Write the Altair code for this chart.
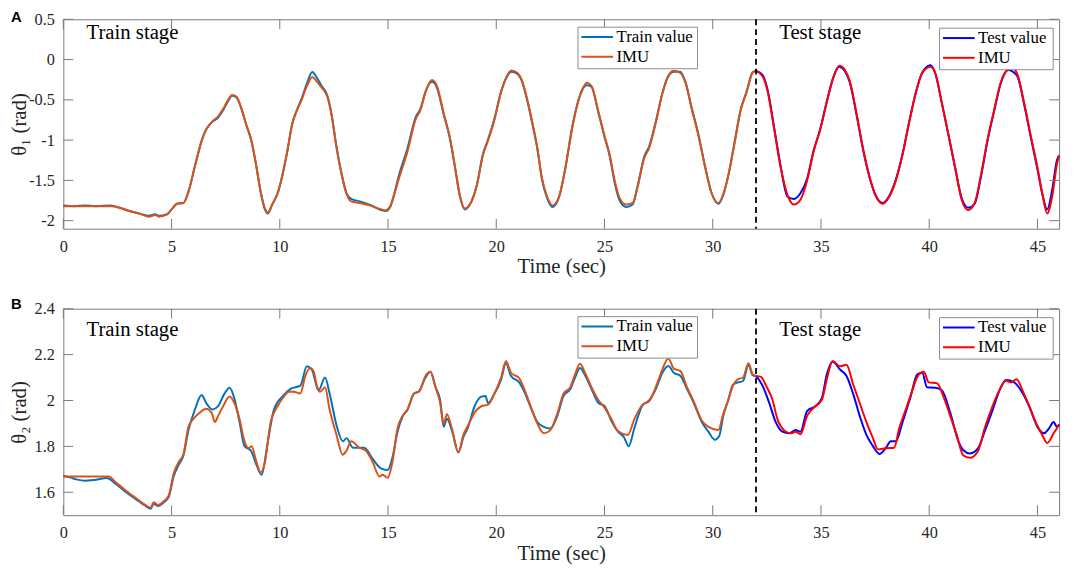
import altair as alt
import pandas as pd

SERIF = "Liberation Serif"
SANS = "Liberation Sans"
INK = "#262626"
BOX = "#7a7a7a"
LEG_BOX = "#8c8c8c"

C_TRAIN = "#0072BD"
C_TRAIN_IMU = "#D95319"
C_TEST = "#0000FF"
C_TEST_IMU = "#FF0000"

x_ticks = [0, 5, 10, 15, 20, 25, 30, 35, 40, 45]
a_y_ticks = [-2, -1.5, -1, -0.5, 0, 0.5]
b_y_ticks = [1.6, 1.8, 2, 2.2, 2.4]
split_time = [32]
stage_labels = ["Train stage", "Test stage"]
stage_t = [1.07, 33.07]
legend_train = ["Train value", "IMU"]
legend_test = ["Test value", "IMU"]

# ---------------- Panel A: theta_1 ----------------
a_train_t = [0, 0.5, 1.0, 1.5, 2.2, 2.6, 3.05, 3.5, 3.96, 4.26,
             4.4, 4.8, 5.0, 5.25, 5.55, 5.78, 6.1, 6.4, 6.6, 6.9,
             7.15, 7.4, 7.6, 7.8, 8.0, 8.2, 8.45, 8.7, 8.9, 9.1,
             9.3, 9.45, 9.65, 9.9, 10.1, 10.35, 10.57, 10.8, 11.0, 11.25,
             11.5, 11.7, 11.94, 12.2, 12.4, 12.6, 12.85, 13.1, 13.3, 13.7,
             14.15, 14.7, 14.9, 15.1, 15.35, 15.5, 15.9, 16.27, 16.5, 16.73,
             17.03, 17.26, 17.57, 17.87, 18.1, 18.33, 18.55, 18.78, 19.09, 19.39,
             19.6, 19.92, 20.2, 20.45, 20.7, 20.98, 21.2, 21.44, 21.67, 21.9,
             22.1, 22.35, 22.6, 22.9, 23.2, 23.5, 23.72, 23.95, 24.18, 24.4,
             24.7, 25.0, 25.24, 25.47, 25.7, 26.0, 26.3, 26.53, 26.84, 27.06,
             27.37, 27.67, 27.98, 28.2, 28.5, 28.74, 29.04, 29.34, 29.65, 29.95,
             30.26, 30.5, 30.75, 31.0, 31.3, 31.55, 31.85, 32.0]
a_train_imu = [-1.82, -1.82, -1.82, -1.82, -1.82, -1.84, -1.88, -1.91, -1.95, -1.93,
               -1.95, -1.92, -1.86, -1.79, -1.78, -1.64, -1.30, -1.00, -0.865, -0.765,
               -0.705, -0.605, -0.505, -0.44, -0.46, -0.585, -0.805, -1.02, -1.30, -1.62,
               -1.84, -1.90, -1.80, -1.66, -1.46, -1.14, -0.805, -0.625, -0.505, -0.33,
               -0.215, -0.27, -0.35, -0.465, -0.705, -1.06, -1.42, -1.68, -1.76, -1.78,
               -1.81, -1.86, -1.87, -1.82, -1.62, -1.48, -1.14, -0.745, -0.625, -0.405,
               -0.255, -0.33, -0.665, -0.985, -1.34, -1.70, -1.85, -1.80, -1.58, -1.18,
               -1.02, -0.745, -0.425, -0.227, -0.135, -0.167, -0.267, -0.505, -0.785, -1.10,
               -1.46, -1.70, -1.81, -1.70, -1.34, -0.865, -0.585, -0.385, -0.287, -0.327,
               -0.625, -0.945, -1.18, -1.50, -1.72, -1.80, -1.78, -1.58, -1.22, -1.10,
               -0.785, -0.425, -0.187, -0.14, -0.167, -0.287, -0.625, -0.945, -1.34, -1.66,
               -1.78, -1.66, -1.40, -1.05, -0.62, -0.42, -0.16, -0.14]
a_train_val = [-1.81, -1.82, -1.81, -1.82, -1.81, -1.84, -1.88, -1.91, -1.94, -1.92,
               -1.94, -1.92, -1.86, -1.79, -1.78, -1.64, -1.30, -1.00, -0.87, -0.77,
               -0.72, -0.62, -0.52, -0.45, -0.47, -0.59, -0.81, -1.02, -1.30, -1.62,
               -1.85, -1.91, -1.80, -1.66, -1.46, -1.13, -0.80, -0.62, -0.49, -0.30,
               -0.155, -0.22, -0.33, -0.45, -0.69, -1.05, -1.41, -1.67, -1.73, -1.76,
               -1.80, -1.87, -1.88, -1.83, -1.60, -1.44, -1.10, -0.72, -0.61, -0.40,
               -0.275, -0.35, -0.68, -0.995, -1.35, -1.71, -1.86, -1.80, -1.57, -1.17,
               -1.01, -0.73, -0.42, -0.235, -0.15, -0.18, -0.28, -0.52, -0.80, -1.11,
               -1.47, -1.72, -1.83, -1.71, -1.33, -0.85, -0.58, -0.39, -0.32, -0.34,
               -0.64, -0.96, -1.20, -1.53, -1.75, -1.83, -1.80, -1.57, -1.20, -1.08,
               -0.77, -0.42, -0.19, -0.15, -0.15, -0.28, -0.61, -0.93, -1.33, -1.66,
               -1.79, -1.67, -1.40, -1.04, -0.61, -0.41, -0.155, -0.14]

a_test_t = [32.0, 32.3, 32.53, 32.84, 33.14, 33.45, 33.75, 34.05, 34.36, 34.66,
            34.97, 35.27, 35.57, 35.85, 36.1, 36.33, 36.64, 36.94, 37.25, 37.55,
            37.85, 38.16, 38.46, 38.77, 39.07, 39.37, 39.68, 40.06, 40.28, 40.59,
            40.9, 41.2, 41.5, 41.8, 42.1, 42.4, 42.7, 43.0, 43.3, 43.63,
            43.86, 44.08, 44.39, 44.69, 45.0, 45.22, 45.45, 45.68, 45.9, 46.0]
a_test_imu = [-0.14, -0.207, -0.386, -0.865, -1.34, -1.68, -1.80, -1.74, -1.50, -1.14,
              -0.865, -0.526, -0.227, -0.076, -0.127, -0.267, -0.665, -1.10, -1.46, -1.70,
              -1.79, -1.70, -1.50, -1.18, -0.785, -0.426, -0.167, -0.088, -0.167, -0.546,
              -0.944, -1.34, -1.74, -1.87, -1.78, -1.42, -0.984, -0.625, -0.287, -0.127,
              -0.107, -0.187, -0.546, -0.944, -1.34, -1.66, -1.91, -1.70, -1.30, -1.19]
a_test_val = [-0.14, -0.19, -0.37, -0.85, -1.33, -1.70, -1.73, -1.66, -1.48, -1.13,
              -0.86, -0.52, -0.22, -0.09, -0.14, -0.28, -0.68, -1.11, -1.47, -1.70,
              -1.78, -1.69, -1.49, -1.17, -0.78, -0.42, -0.16, -0.07, -0.17, -0.55,
              -0.95, -1.35, -1.72, -1.84, -1.79, -1.44, -1.00, -0.64, -0.30, -0.13,
              -0.15, -0.21, -0.56, -0.96, -1.36, -1.66, -1.86, -1.62, -1.25, -1.19]

# ---------------- Panel B: theta_2 ----------------
b_train_imu_t = [0, 0.5, 1.0, 1.5, 2.1, 2.44, 2.9, 3.35, 3.8, 4.03,
                 4.18, 4.38, 4.64, 4.87, 5.1, 5.33, 5.55, 5.78, 6.0, 6.3,
                 6.6, 6.85, 7.0, 7.15, 7.38, 7.68, 7.9, 8.14, 8.37, 8.56,
                 8.7, 8.9, 9.12, 9.3, 9.58, 9.9, 10.19, 10.42, 10.65, 10.95,
                 11.18, 11.4, 11.56, 11.71, 11.86, 12.09, 12.3, 12.62, 12.9, 13.08,
                 13.3, 13.68, 13.98, 14.29, 14.6, 14.75, 14.98, 15.2, 15.44, 15.67,
                 15.9, 16.2, 16.43, 16.73, 16.96, 17.19, 17.41, 17.57, 17.72, 17.95,
                 18.25, 18.48, 18.7, 19.0, 19.31, 19.62, 19.92, 20.22, 20.45, 20.68,
                 21.06, 21.29, 21.59, 21.9, 22.2, 22.5, 22.81, 23.11, 23.42, 23.64,
                 23.87, 24.1, 24.4, 24.71, 25.01, 25.32, 25.62, 26.08, 26.38, 26.76,
                 27.06, 27.37, 27.67, 27.95, 28.2, 28.51, 28.81, 29.12, 29.5, 29.8,
                 30.26, 30.48, 30.71, 30.94, 31.17, 31.4, 31.65, 31.85, 32.0]
b_train_imu = [1.669, 1.669, 1.669, 1.669, 1.669, 1.642, 1.607, 1.575, 1.544, 1.533,
               1.556, 1.544, 1.561, 1.586, 1.683, 1.732, 1.767, 1.885, 1.919, 1.947,
               1.964, 1.947, 1.906, 1.933, 1.975, 2.017, 1.989, 1.919, 1.822, 1.792,
               1.801, 1.739, 1.686, 1.725, 1.906, 1.975, 2.017, 2.038, 2.038, 2.031,
               2.107, 2.142, 2.128, 2.065, 2.038, 2.058, 1.961, 1.850, 1.764, 1.781,
               1.822, 1.794, 1.781, 1.732, 1.669, 1.676, 1.663, 1.73, 1.88, 1.933,
               1.961, 2.031, 2.038, 2.107, 2.125, 2.058, 1.989, 1.899, 1.94, 1.878,
               1.774, 1.85, 1.892, 1.947, 1.975, 1.982, 2.031, 2.1, 2.172, 2.121,
               2.097, 2.051, 1.975, 1.899, 1.857, 1.871, 1.94, 2.031, 2.058, 2.114,
               2.16, 2.121, 2.058, 2.003, 1.968, 1.919, 1.867, 1.85, 1.919, 1.982,
               1.996, 2.058, 2.135, 2.183, 2.139, 2.128, 2.058, 1.996, 1.912, 1.885,
               1.871, 1.94, 2.0, 2.065, 2.093, 2.1, 2.162, 2.114, 2.107]

b_train_val_t = [0, 0.3, 0.6, 1.0, 1.5, 2.0, 2.44, 2.9, 3.35, 3.8,
                 4.03, 4.18, 4.38, 4.64, 4.87, 5.1, 5.33, 5.55, 5.78, 6.08,
                 6.39, 6.6, 6.9, 7.15, 7.45, 7.68, 7.9, 8.14, 8.37, 8.67,
                 8.9, 9.16, 9.43, 9.73, 10.19, 10.5, 10.95, 11.25, 11.48, 11.79,
                 12.09, 12.3, 12.62, 12.92, 13.08, 13.38, 13.9, 14.29, 14.67, 14.98,
                 15.2, 15.44, 15.67, 15.9, 16.2, 16.43, 16.73, 16.96, 17.19, 17.41,
                 17.57, 17.72, 17.95, 18.25, 18.48, 18.7, 19.0, 19.31, 19.5, 19.62,
                 19.92, 20.22, 20.45, 20.68, 21.06, 21.29, 21.59, 21.9, 22.2, 22.5,
                 22.81, 23.11, 23.42, 23.64, 23.87, 24.1, 24.4, 24.71, 25.01, 25.32,
                 25.62, 25.9, 26.12, 26.38, 26.76, 27.06, 27.37, 27.67, 27.95, 28.2,
                 28.51, 28.81, 29.12, 29.5, 29.8, 30.1, 30.3, 30.48, 30.71, 30.94,
                 31.17, 31.4, 31.65, 31.85, 32.0]
b_train_val = [1.672, 1.665, 1.656, 1.650, 1.655, 1.662, 1.635, 1.60, 1.57, 1.540,
               1.528, 1.550, 1.54, 1.556, 1.580, 1.67, 1.72, 1.76, 1.87, 1.961,
               2.024, 1.989, 1.961, 1.975, 2.031, 2.056, 2.01, 1.906, 1.801, 1.781,
               1.725, 1.676, 1.81, 1.961, 2.024, 2.051, 2.065, 2.149, 2.135, 2.044,
               2.10, 2.031, 1.892, 1.822, 1.836, 1.794, 1.794, 1.746, 1.704, 1.697,
               1.75, 1.864, 1.93, 1.96, 2.03, 2.04, 2.10, 2.125, 2.06, 2.0,
               1.885, 1.92, 1.87, 1.774, 1.84, 1.885, 1.975, 2.017, 2.02, 1.989,
               2.03, 2.09, 2.162, 2.107, 2.079, 2.04, 1.97, 1.906, 1.885, 1.878,
               1.93, 2.02, 2.05, 2.10, 2.142, 2.11, 2.05, 1.99, 1.975, 1.91,
               1.864, 1.84, 1.801, 1.88, 1.98, 2.0, 2.05, 2.12, 2.15, 2.121,
               2.107, 2.05, 1.99, 1.905, 1.864, 1.829, 1.845, 1.93, 2.0, 2.07,
               2.079, 2.085, 2.155, 2.11, 2.107]

b_test_imu_t = [32.0, 32.23, 32.46, 32.76, 32.99, 33.29, 33.6, 33.83, 34.05, 34.36,
                34.66, 35.04, 35.27, 35.54, 35.88, 36.18, 36.48, 36.79, 37.1, 37.4,
                37.63, 38.0, 38.38, 38.61, 38.92, 39.22, 39.45, 39.75, 39.98, 40.36,
                40.66, 40.97, 41.27, 41.58, 41.88, 42.26, 42.56, 42.87, 43.17, 43.55,
                43.78, 44.04, 44.31, 44.62, 44.92, 45.22, 45.45, 45.75, 46.0]
b_test_imu = [2.107, 2.103, 2.065, 2.003, 1.919, 1.871, 1.857, 1.864, 1.853, 1.933,
              1.968, 2.003, 2.093, 2.172, 2.149, 2.156, 2.072, 1.989, 1.906, 1.836,
              1.787, 1.792, 1.794, 1.878, 1.961, 2.044, 2.103, 2.125, 2.079, 2.075,
              2.017, 1.933, 1.85, 1.76, 1.75, 1.781, 1.878, 1.961, 2.031, 2.086,
              2.079, 2.093, 2.044, 1.975, 1.906, 1.85, 1.815, 1.857, 1.895]

b_test_val_t = [32.0, 32.3, 32.61, 32.91, 33.22, 33.52, 33.83, 34.05, 34.36, 34.74,
                35.04, 35.27, 35.54, 35.88, 36.18, 36.48, 36.79, 37.1, 37.4, 37.7,
                38.0, 38.23, 38.46, 38.77, 39.14, 39.45, 39.68, 39.9, 40.28, 40.59,
                40.97, 41.35, 41.58, 41.88, 42.26, 42.56, 42.94, 43.25, 43.55, 43.93,
                44.24, 44.62, 45.0, 45.3, 45.53, 45.75, 45.9, 46.0]
b_test_val = [2.107, 2.065, 1.989, 1.906, 1.864, 1.857, 1.871, 1.864, 1.954, 1.975,
              2.01, 2.114, 2.169, 2.135, 2.107, 2.031, 1.933, 1.85, 1.801, 1.767,
              1.794, 1.822, 1.822, 1.906, 2.017, 2.114, 2.121, 2.058, 2.056, 2.044,
              1.947, 1.822, 1.783, 1.769, 1.792, 1.864, 1.961, 2.044, 2.089, 2.079,
              2.044, 1.975, 1.885, 1.857, 1.878, 1.906, 1.885, 1.897]

W = 1008
H_A = 212
H_B = 209
TICK = 10


def legend_layers(left, top, width, labels, colors):
    out = [alt.Chart(pd.DataFrame({"k": [0]})).mark_rect(
        fill="white", stroke=LEG_BOX, strokeWidth=1).encode(
        x=alt.value(left), x2=alt.value(left + width),
        y=alt.value(top), y2=alt.value(top + 42))]
    for i, (lab, col) in enumerate(zip(labels, colors)):
        py = top + 10 + 20 * i
        df = pd.DataFrame({"label": [lab]})
        out.append(alt.Chart(df).mark_rule(color=col, strokeWidth=2).encode(
            x=alt.value(left + 3.5), x2=alt.value(left + 35.5), y=alt.value(py)))
        out.append(alt.Chart(df).mark_text(
            align="left", baseline="middle", font=SERIF, fontSize=17, color="black").encode(
            x=alt.value(left + 39), y=alt.value(py), text="label:N"))
    return out


def panel(letter, letter_y, ylabel, ydom, yticks, H, series, stage_v):
    xs = alt.Scale(domain=[0, 46], nice=False, zero=False)
    ys = alt.Scale(domain=ydom, nice=False, zero=False)
    xax = alt.Axis(values=x_ticks, title="Time (sec)", tickSize=0, domain=False, grid=False,
                   labelPadding=10, titlePadding=1, labelFlush=False,
                   labelExpr="'' + datum.value")
    yax = alt.Axis(values=yticks, title=ylabel, tickSize=0, domain=False, grid=False,
                   labelPadding=9, titleX=-44, titleBaseline="middle",
                   labelExpr="'' + datum.value")
    X = alt.X("t:Q", scale=xs, axis=xax)
    Y = alt.Y("v:Q", scale=ys, axis=yax)

    layers = []
    for t, v, c in series:
        layers.append(alt.Chart(pd.DataFrame({"t": t, "v": v})).mark_line(
            color=c, strokeWidth=2, interpolate="monotone").encode(x=X, y=Y))

    layers.append(alt.Chart(pd.DataFrame({"t": split_time})).mark_rule(
        color="black", strokeDash=[6, 4], strokeWidth=1.8).encode(x=X))

    layers.append(alt.Chart(pd.DataFrame({
        "t": stage_t, "v": [stage_v, stage_v], "label": stage_labels})).mark_text(
        align="left", baseline="alphabetic", font=SERIF, fontSize=21, color="black").encode(
        x=X, y=Y, text="label:N"))

    xt = pd.DataFrame({"t": x_ticks})
    yt = pd.DataFrame({"v": yticks})
    layers.append(alt.Chart(xt).mark_rule(color=BOX, strokeWidth=1).encode(
        x=X, y=alt.value(H), y2=alt.value(H - TICK)))
    layers.append(alt.Chart(xt).mark_rule(color=BOX, strokeWidth=1).encode(
        x=X, y=alt.value(0), y2=alt.value(TICK)))
    layers.append(alt.Chart(yt).mark_rule(color=BOX, strokeWidth=1).encode(
        y=Y, x=alt.value(0), x2=alt.value(TICK)))
    layers.append(alt.Chart(yt).mark_rule(color=BOX, strokeWidth=1).encode(
        y=Y, x=alt.value(W), x2=alt.value(W - TICK)))

    layers += legend_layers(521, 8, 121, legend_train, [C_TRAIN, C_TRAIN_IMU])
    layers += legend_layers(887, 9, 115, legend_test, [C_TEST, C_TEST_IMU])

    layers.append(alt.Chart(pd.DataFrame({"label": [letter]})).mark_text(
        align="left", baseline="alphabetic", font=SANS, fontWeight="bold",
        fontSize=15, color="black").encode(
        x=alt.value(-53), y=alt.value(letter_y), text="label:N"))

    return alt.layer(*layers).properties(width=W, height=H)


top = panel("A", 3, "θ₁ (rad)", [-2.1, 0.5], a_y_ticks, H_A, [
    (a_train_t, a_train_val, C_TRAIN),
    (a_train_t, a_train_imu, C_TRAIN_IMU),
    (a_test_t, a_test_val, C_TEST),
    (a_test_t, a_test_imu, C_TEST_IMU),
], 0.25)

bottom = panel("B", 0, "θ₂ (rad)", [1.5, 2.4], b_y_ticks, H_B, [
    (b_train_val_t, b_train_val, C_TRAIN),
    (b_train_imu_t, b_train_imu, C_TRAIN_IMU),
    (b_test_val_t, b_test_val, C_TEST),
    (b_test_imu_t, b_test_imu, C_TEST_IMU),
], 2.283)

chart = alt.vconcat(top, bottom, spacing=19).properties(
    padding={"left": 0, "top": -2, "right": 2, "bottom": 0}
).configure_view(stroke=BOX, strokeWidth=1).configure_axis(
    labelFont=SERIF, labelFontSize=16.5, labelColor=INK,
    titleFont=SERIF, titleFontSize=21, titleFontWeight="normal", titleColor=INK
)

chart.save("out.html", embed_options={"renderer": "svg", "actions": False})
